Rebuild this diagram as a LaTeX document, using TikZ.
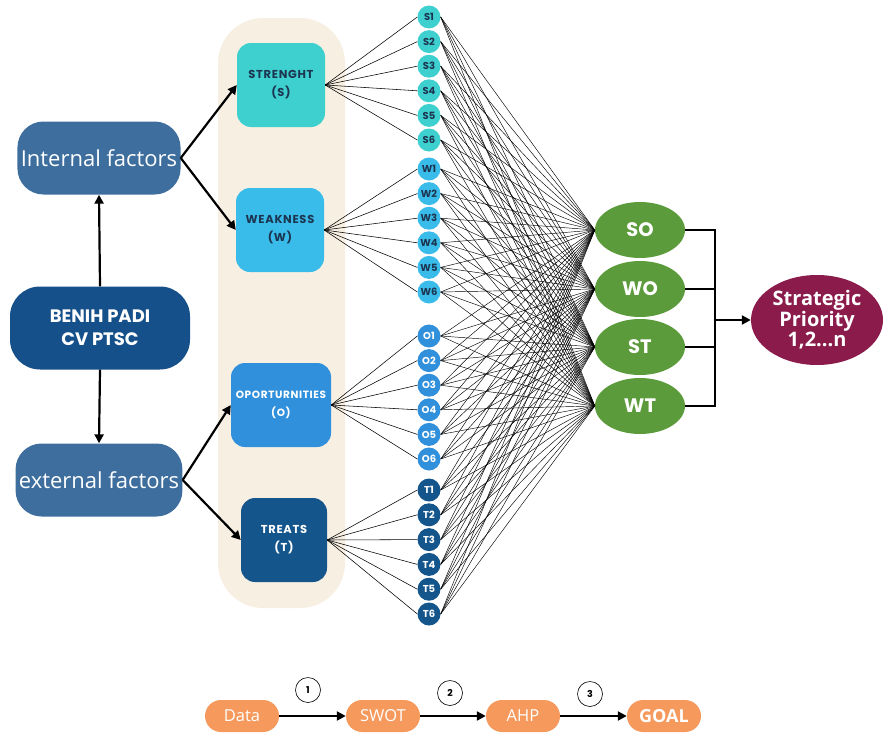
\documentclass[tikz,border=0pt]{standalone}
\usepackage{fontspec}
\setmainfont{Open Sans}
\newfontfamily\pop{Poppins}
\newfontfamily\popw{Poppins}[LetterSpace=6]
\usetikzlibrary{shapes.geometric,arrows.meta}
\definecolor{intcol}{HTML}{3E6E9E}
\definecolor{benihcol}{HTML}{16508A}
\definecolor{scol}{HTML}{3ECFCF}
\definecolor{wcol}{HTML}{3ABCEA}
\definecolor{ocol}{HTML}{3090DB}
\definecolor{tcol}{HTML}{14558C}
\definecolor{greencol}{HTML}{5C9B3B}
\definecolor{maroon}{HTML}{8A1B4B}
\definecolor{orangecol}{HTML}{F6995C}
\definecolor{beige}{HTML}{F7EFE2}
\definecolor{darktext}{HTML}{1C3550}
\begin{document}
\begin{tikzpicture}[x=1pt,y=-1pt,
  factor/.style={rectangle,rounded corners=26pt,fill=intcol,minimum width=162pt,minimum height=73pt,text=white,font=\fontsize{22}{24}\selectfont},
  swotbox/.style={rectangle,rounded corners=14pt,minimum width=88pt,minimum height=84pt,align=center,font=\popw\bfseries\fontsize{11.5}{18}\selectfont},
  dot/.style={circle,minimum size=23pt,inner sep=0pt,font=\pop\bfseries\fontsize{10}{10}\selectfont},
  strat/.style={ellipse,fill=greencol,minimum width=90pt,minimum height=56pt,inner sep=0pt,text=white,font=\pop\bfseries\fontsize{19.5}{22}\selectfont},
  pill/.style={rectangle,rounded corners=16pt,fill=orangecol,minimum width=74pt,minimum height=32pt,text=white,font=\fontsize{16.5}{18}\selectfont},
  num/.style={circle,draw=black,line width=0.6pt,fill=white,minimum size=25pt,inner sep=0pt,font=\pop\bfseries\fontsize{9.5}{10}\selectfont},
  bigarrow/.style={line width=2.2pt,-{Triangle[length=9pt,width=9pt]}},
  thinline/.style={line width=0.55pt,black}
]
\useasboundingbox (0,0) rectangle (883,736);
% beige band
\fill[beige,rounded corners=45pt] (218,18) rectangle (345,608);

% left column
\node[factor] (int) at (99,158) {Internal factors};
\node[factor,fill=benihcol,minimum width=180pt,minimum height=83pt,rounded corners=30pt,font=\pop\bfseries\fontsize{18}{23}\selectfont,align=center] (benih) at (100,328) {BENIH PADI\\CV PTSC};
\node[factor] (ext) at (99,480) {external factors};

% SWOT boxes
\node[swotbox,fill=scol,text=darktext] (str) at (281,85) {STRENGHT\\(S)};
\node[swotbox,fill=wcol,text=darktext] (weak) at (280,230) {WEAKNESS\\(W)};
\node[swotbox,fill=ocol,text=white,minimum width=100pt,font=\popw\bfseries\fontsize{10.5}{18}\selectfont] (opp) at (281,405) {OPORTURNITIES\\(O)};
\node[swotbox,fill=tcol,text=white,minimum width=86pt] (thr) at (284,540) {TREATS\\(T)};

% strategy ellipses
\node[strat] (SO) at (640,230) {SO};
\node[strat] (WO) at (640,289) {WO};
\node[strat] (ST) at (640,347) {ST};
\node[strat] (WT) at (640,406) {WT};

\node[ellipse,fill=maroon,minimum width=132pt,minimum height=90pt,inner sep=0pt,text=white,align=center,font=\bfseries\fontsize{20}{20.5}\selectfont] (SP) at (817,320) {Strategic\\Priority\\1,2...n};

% small circles
\foreach \g/\c/\t/\yy/\st in {S/scol/darktext/17/24.6, W/wcol/darktext/169/24.6, O/ocol/white/336/24.6, T/tcol/white/490/24.8}{
  \foreach \i in {1,...,6}{
    \node[dot,fill=\c,text=\t] (c\g\i) at (429,{\yy+(\i-1)*\st}) {\g\i};
  }
}

% box to circles
\foreach \g/\b in {S/str,W/weak,O/opp,T/thr}{
  \foreach \i in {1,...,6}{
    \draw[thinline] (\b.east) -- (c\g\i.west);
  }
}
% circles to strategies
\foreach \g in {S,W,O,T}{
  \foreach \i in {1,...,6}{
    \foreach \e in {SO,WO,ST,WT}{
      \draw[line width=0.45pt] (c\g\i.east) -- (\e.west);
    }
  }
}

% left arrows
\draw[bigarrow] (benih.north) -- (int.south);
\draw[bigarrow] (benih.south) -- (ext.north);
\draw[bigarrow] (int.east) -- (str.west);
\draw[bigarrow] (int.east) -- (weak.west);
\draw[bigarrow] (ext.east) -- (opp.west);
\draw[bigarrow] (ext.east) -- (thr.west);

% bracket
\coordinate (bj) at (715,320);
\draw[line width=2pt] (SO.east) -- (SO.east -| bj) -- (WT.east -| bj) -- (WT.east);
\draw[line width=2pt] (WO.east) -- (WO.east -| bj);
\draw[line width=2pt] (ST.east) -- (ST.east -| bj);
\draw[bigarrow] (bj) -- (SP.west);

% bottom process
\node[pill] (data) at (242,716) {Data};
\node[pill] (swot) at (383,716) {SWOT};
\node[pill] (ahp) at (523,716) {AHP};
\node[pill,font=\bfseries\fontsize{18}{20}\selectfont] (goal) at (664,716) {GOAL};
\draw[bigarrow] (data) -- (swot);
\draw[bigarrow] (swot) -- (ahp);
\draw[bigarrow] (ahp) -- (goal);
\node[num] (n1) at (308,690) {1};
\node[num] (n2) at (450,693) {2};
\node[num] (n3) at (590,694) {3};
\end{tikzpicture}
\end{document}
